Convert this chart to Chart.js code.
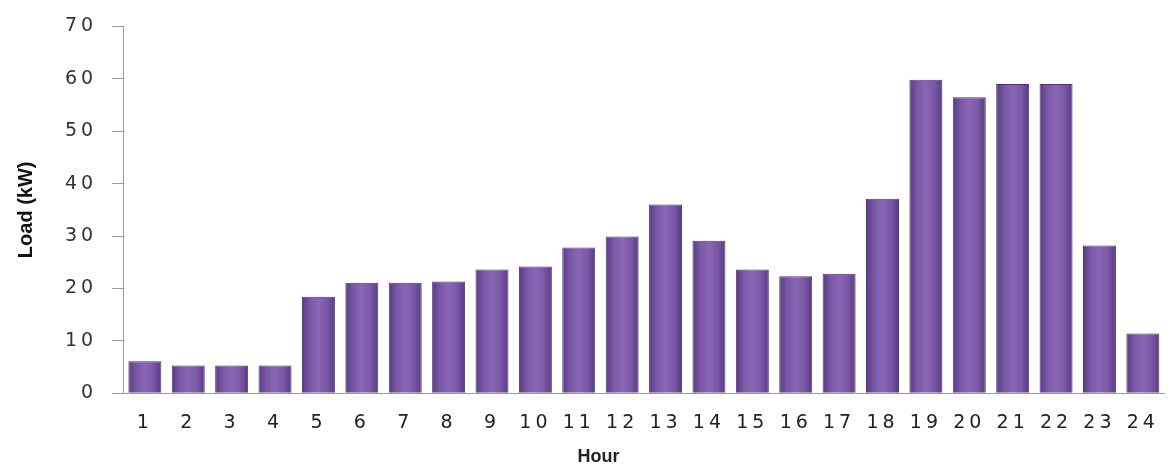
<!DOCTYPE html>
<html>
<head>
<meta charset="utf-8">
<script src="https://cdn.jsdelivr.net/npm/chart.js@4/dist/chart.umd.min.js"></script>
<style>
  html, body { margin: 0; padding: 0; background: #fff; }
  #wrap { width: 1173px; height: 466px; }
</style>
</head>
<body>
<div id="wrap"><canvas id="load-chart"></canvas></div>
<script>
const hours = ['1','2','3','4','5','6','7','8','9','10','11','12','13','14','15','16','17','18','19','20','21','22','23','24'];
const loadKW = [6.1, 5.3, 5.3, 5.3, 18.4, 21.1, 21.1, 21.3, 23.6, 24.2, 27.8, 29.9, 36.0, 29.1, 23.6, 22.3, 22.8, 37.1, 59.8, 56.5, 59.0, 59.0, 28.2, 11.4];
const yTicks = [0, 10, 20, 30, 40, 50, 60, 70];
const xTitle = 'Hour';

// horizontal shading so the bars look rounded like the original
function barFill(context) {
    const chart = context.chart;
    const xs = chart.scales.x;
    if (!xs || context.dataIndex === undefined) return '#7d5ba6';
    const cx = xs.getPixelForValue(context.dataIndex);
    if (!isFinite(cx)) return '#7d5ba6';
    const half = 17;
    const g = chart.ctx.createLinearGradient(cx - half, 0, cx + half, 0);
    g.addColorStop(0, '#553a80');
    g.addColorStop(0.25, '#7a58a6');
    g.addColorStop(0.5, '#8a67b6');
    g.addColorStop(0.75, '#7a58a6');
    g.addColorStop(1, '#553a80');
    return g;
}

// tick labels are drawn after the bars (ticks.z = 1); give them the wide spacing of the original font
const wideTicks = {
    id: 'wideTicks',
    afterDatasetsDraw(chart) { chart.ctx.letterSpacing = '4px'; },
    afterDraw(chart) {
        const c = chart.ctx;
        c.letterSpacing = '0px';
        // x axis title sits a bit left of the plot centre in the original
        c.save();
        c.font = 'bold 18px "Liberation Sans", sans-serif';
        c.fillStyle = '#222';
        c.textAlign = 'center';
        c.textBaseline = 'middle';
        c.fillText(xTitle, chart.width / 2 + 12, chart.height - 9);
        c.restore();
    }
};

document.addEventListener("DOMContentLoaded", function() {
    const ctx = document.getElementById('load-chart').getContext('2d');
    const chart = new Chart(ctx, {
        type: 'bar',
        data: {
            labels: hours,
            datasets: [{
                label: 'Load (kW)',
                data: loadKW,
                backgroundColor: barFill,
                borderColor: '#4e3574',
                borderWidth: 1,
                barPercentage: 0.76,
                categoryPercentage: 1.0
            }]
        },
        options: {
            responsive: true,
            maintainAspectRatio: false,
            animation: false,
            layout: { padding: { top: 5, right: 3, left: 11, bottom: 14 } },
            plugins: {
                legend: { display: false },
                tooltip: { enabled: false }
            },
            scales: {
                x: {
                    grid: { display: false, drawTicks: false },
                    border: { display: true, color: '#9a9a9a', width: 1 },
                    ticks: { z: 1, color: '#222', font: { family: 'DejaVu Sans', size: 19 }, padding: 18, maxRotation: 0, autoSkip: false }
                },
                y: {
                    min: 0,
                    max: 70,
                    afterBuildTicks: function(axis) { axis.ticks = yTicks.map(v => ({ value: v })); },
                    grid: { drawOnChartArea: false, drawTicks: true, tickLength: 11, color: '#9a9a9a' },
                    border: { display: true, color: '#9a9a9a', width: 1 },
                    ticks: { z: 1, color: '#333', font: { family: 'DejaVu Sans', size: 19 }, padding: 15 },
                    title: { display: true, text: 'Load (kW)', color: '#111', font: { family: "'Liberation Sans Narrow', 'Liberation Sans', sans-serif", size: 20, weight: 'bold' }, padding: { top: 3, bottom: 20 } }
                }
            }
        },
        plugins: [wideTicks]
    });
    // second pass so the gradients use the final scale positions
    chart.update('none');
});
</script>
</body>
</html>
